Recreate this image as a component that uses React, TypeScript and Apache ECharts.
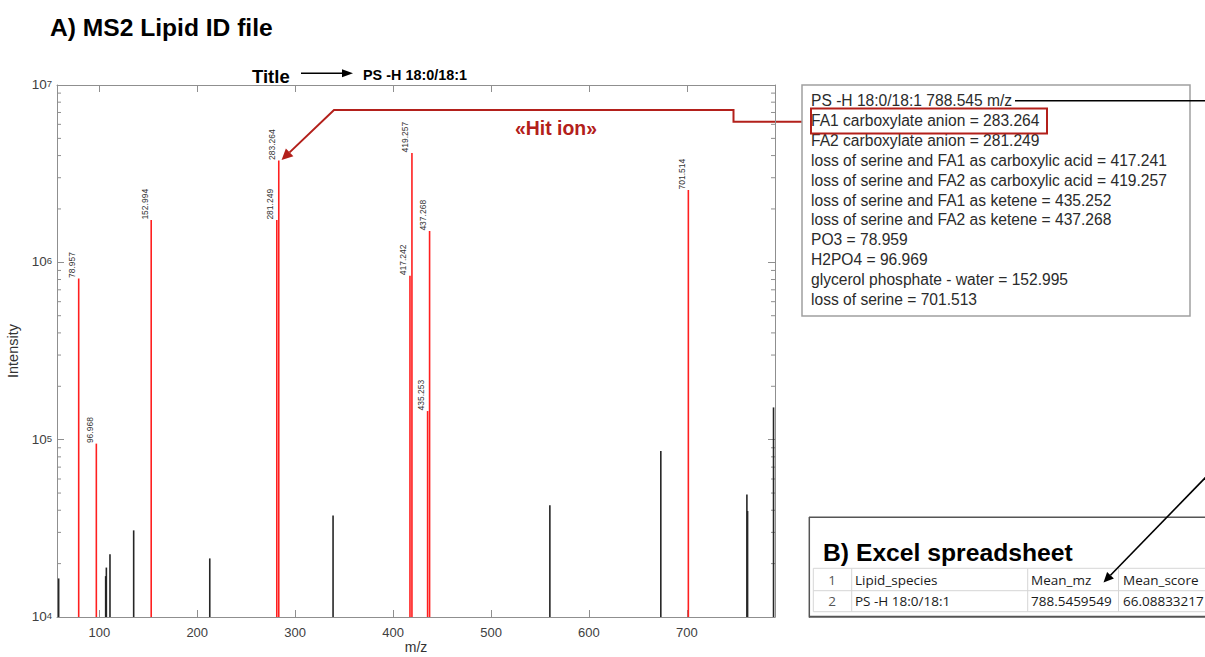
import React, { useEffect, useRef } from "react";
import * as echarts from "echarts";

// ---- data ----
const redMz = [78.957, 96.968, 152.994, 281.249, 283.264, 417.242, 419.257, 435.253, 437.268, 701.514];
const redIntensity = [810000, 95000, 1730000, 1730000, 3750000, 840000, 4140000, 145000, 1500000, 2560000];
const redLabels = ["78.957", "96.968", "152.994", "281.249", "283.264", "417.242", "419.257", "435.253", "437.268", "701.514"];
const blackMz = [58.5, 106.5, 107.2, 110.9, 135.1, 212.8, 338.7, 560.1, 673.4, 761.3, 762.0, 788.5];
const blackIntensity = [16500, 17000, 19000, 22600, 30800, 21400, 37300, 42700, 86300, 49000, 39600, 152000];
const xTicks = [100, 200, 300, 400, 500, 600, 700];
const yMinorTicks = [
  20000, 30000, 40000, 50000, 60000, 70000, 80000, 90000,
  200000, 300000, 400000, 500000, 600000, 700000, 800000, 900000,
  2000000, 3000000, 4000000, 5000000, 6000000, 7000000, 8000000, 9000000,
];
const X_MIN = 56.8;
const X_MAX = 790;
const Y_MIN = 1e4;
const Y_MAX = 1e7;

const mainTitle = "A) MS2 Lipid ID file";
const titleKey = "Title";
const titleValue = "PS -H 18:0/18:1";
const hitIon = "\u00abHit ion\u00bb";
const legendLines = [
  "PS -H 18:0/18:1 788.545 m/z",
  "FA1 carboxylate anion = 283.264",
  "FA2 carboxylate anion = 281.249",
  "loss of serine and FA1 as carboxylic acid = 417.241",
  "loss of serine and FA2 as carboxylic acid = 419.257",
  "loss of serine and FA1 as ketene = 435.252",
  "loss of serine and FA2 as ketene = 437.268",
  "PO3 = 78.959",
  "H2PO4 = 96.969",
  "glycerol phosphate - water = 152.995",
  "loss of serine = 701.513",
];
const sheetTitle = "B) Excel spreadsheet";
const sheetHeader = ["1", "Lipid_species", "Mean_mz", "Mean_score"];
const sheetRow = ["2", "PS -H 18:0/18:1", "788.5459549", "66.08833217"];

const FONT = "'Liberation Sans', Arial, Helvetica, sans-serif";
const SHEET_FONT = "'Open Sans', 'Liberation Sans', sans-serif";
const DARK_RED = "#b3201b";
const AXIS_COLOR = "#8f8f8f";

function buildGraphics() {
  const g: any[] = [];
  // main title
  g.push({ type: "text", x: 50, y: 27, style: { text: mainTitle, font: `bold 24.6px ${FONT}`, fill: "#000", align: "left", verticalAlign: "middle" } });
  // Title -> PS
  g.push({ type: "text", x: 252, y: 76, style: { text: titleKey, font: `bold 18.5px ${FONT}`, fill: "#000", align: "left", verticalAlign: "middle" } });
  g.push({ type: "line", shape: { x1: 301, y1: 73.3, x2: 343, y2: 73.3 }, style: { stroke: "#000", lineWidth: 1.6 } });
  g.push({ type: "polygon", shape: { points: [[353, 73.3], [342, 69.3], [342, 77.3]] }, style: { fill: "#000" } });
  g.push({ type: "text", x: 363, y: 75, style: { text: titleValue, font: `bold 14.4px ${FONT}`, fill: "#000", align: "left", verticalAlign: "middle" } });

  // hit ion annotation
  g.push({ type: "text", x: 556, y: 128, style: { text: hitIon, font: `bold 19.4px ${FONT}`, fill: DARK_RED, align: "center", verticalAlign: "middle" } });
  g.push({
    type: "polyline",
    shape: { points: [[289.6, 152.4], [334, 110], [733.5, 110], [733.5, 121.7], [811, 121.7]] },
    style: { stroke: DARK_RED, lineWidth: 2, fill: null },
  });
  g.push({ type: "polygon", shape: { points: [[281.6, 160], [293.4, 156.2], [285.9, 148.4]] }, style: { fill: DARK_RED } });

  // legend box
  g.push({ type: "rect", shape: { x: 802, y: 85, width: 388, height: 231 }, style: { fill: "#fff", stroke: "#a0a0a0", lineWidth: 1.5 } });
  legendLines.forEach((t, i) => {
    g.push({ type: "text", x: 811, y: 100.7 + i * 19.86, style: { text: t, font: `15.6px ${FONT}`, fill: "#2b2b2b", align: "left", verticalAlign: "middle" } });
  });
  g.push({ type: "rect", shape: { x: 811, y: 108.5, width: 236, height: 25 }, style: { fill: null, stroke: DARK_RED, lineWidth: 2 } });
  g.push({ type: "line", shape: { x1: 1015, y1: 100.7, x2: 1210, y2: 100.7 }, style: { stroke: "#000", lineWidth: 1.6 } });

  // spreadsheet
  g.push({ type: "line", shape: { x1: 809, y1: 517.3, x2: 1210, y2: 517.3 }, style: { stroke: "#555", lineWidth: 1.5 } });
  g.push({ type: "line", shape: { x1: 809.3, y1: 517, x2: 809.3, y2: 617.5 }, style: { stroke: "#555", lineWidth: 1.5 } });
  g.push({ type: "line", shape: { x1: 809, y1: 616.7, x2: 1210, y2: 616.7 }, style: { stroke: "#555", lineWidth: 2 } });
  g.push({ type: "text", x: 823, y: 552, style: { text: sheetTitle, font: `bold 24.7px ${FONT}`, fill: "#000", align: "left", verticalAlign: "middle" } });
  const rowsY = [568.3, 590.7, 611.7];
  const colsX = [813.3, 851.7, 1027.7, 1118.5];
  rowsY.forEach((y) => g.push({ type: "line", shape: { x1: 813.3, y1: y, x2: 1210, y2: y }, style: { stroke: "#d6d6d6", lineWidth: 1 } }));
  colsX.forEach((x) => g.push({ type: "line", shape: { x1: x, y1: 568.3, x2: x, y2: 611.7 }, style: { stroke: "#d6d6d6", lineWidth: 1 } }));
  const textX = [832, 855, 1031, 1123];
  [sheetHeader, sheetRow].forEach((row, r) => {
    const cy = (rowsY[r] + rowsY[r + 1]) / 2;
    row.forEach((t, c) => {
      g.push({
        type: "text",
        x: textX[c],
        y: cy,
        style: { text: t, font: `13.5px ${SHEET_FONT}`, fill: c === 0 ? "#555" : "#1a1a1a", align: c === 0 ? "center" : "left", verticalAlign: "middle" },
      });
    });
  });
  // arrow from legend line to Mean_mz
  g.push({ type: "line", shape: { x1: 1215, y1: 467.7, x2: 1110.5, y2: 575.3 }, style: { stroke: "#000", lineWidth: 1.6 } });
  g.push({ type: "polygon", shape: { points: [[1103.5, 582.5], [1113.9, 578.6], [1107.1, 572.0]] }, style: { fill: "#000" } });
  return g;
}

export default function App() {
  const ref = useRef<HTMLDivElement>(null);
  useEffect(() => {
    if (!ref.current) return;
    const chart = echarts.init(ref.current, undefined, { renderer: "svg" });

    const stickRender = (color: string, labels: string[] | null) => (params: any, api: any) => {
      const mz = api.value(0);
      const inten = api.value(1);
      const top = api.coord([mz, inten]);
      const bottom = api.coord([mz, Y_MIN]);
      const children: any[] = [
        { type: "line", shape: { x1: top[0], y1: bottom[1], x2: top[0], y2: top[1] }, style: { stroke: color, lineWidth: 1.6 } },
      ];
      if (labels) {
        children.push({
          type: "text",
          x: top[0] - 6.5,
          y: top[1] - 0.5,
          rotation: Math.PI / 2,
          style: { text: labels[params.dataIndex], font: `8.5px ${FONT}`, fill: "#333", align: "left", verticalAlign: "middle" },
        });
      }
      return { type: "group", children };
    };

    const minorRender = (params: any, api: any) => {
      const y = api.coord([X_MIN, api.value(1)])[1];
      const cs = params.coordSys;
      const x0 = cs.x;
      const x1 = cs.x + cs.width;
      return {
        type: "group",
        children: [
          { type: "line", shape: { x1: x0, y1: y, x2: x0 + 4, y2: y }, style: { stroke: AXIS_COLOR, lineWidth: 1 } },
          { type: "line", shape: { x1: x1 - 4, y1: y, x2: x1, y2: y }, style: { stroke: AXIS_COLOR, lineWidth: 1 } },
        ],
      };
    };

    const axisLineStyle = { color: AXIS_COLOR, width: 1 };
    const yLabelFormatter = (v: number) => `{b|10}{s|${Math.round(Math.log10(v))}}`;

    const option: any = {
      animation: false,
      backgroundColor: "#fff",
      grid: { left: 57, top: 85, width: 718, height: 532, containLabel: false, outerBoundsMode: "none" },
      xAxis: [
        {
          type: "value",
          min: X_MIN,
          max: X_MAX,
          position: "bottom",
          axisLine: { show: true, lineStyle: axisLineStyle },
          axisTick: { show: true, inside: true, length: 7, customValues: xTicks, lineStyle: axisLineStyle },
          axisLabel: { show: true, customValues: xTicks, color: "#404040", fontSize: 13, fontFamily: FONT, margin: 9 },
          splitLine: { show: false },
          name: "m/z",
          nameLocation: "middle",
          nameGap: 23,
          nameMoveOverlap: false,
          nameTextStyle: { fontSize: 14, lineHeight: 14, color: "#333", fontFamily: FONT },
        },
        {
          type: "value",
          min: X_MIN,
          max: X_MAX,
          position: "top",
          axisLine: { show: true, lineStyle: axisLineStyle },
          axisTick: { show: true, inside: true, length: 7, customValues: xTicks, lineStyle: axisLineStyle },
          axisLabel: { show: false, customValues: xTicks },
          splitLine: { show: false },
        },
      ],
      yAxis: [
        {
          type: "log",
          logBase: 10,
          min: Y_MIN,
          max: Y_MAX,
          position: "left",
          axisLine: { show: true, lineStyle: axisLineStyle },
          axisTick: { show: true, inside: true, length: 7, lineStyle: axisLineStyle },
          axisLabel: {
            show: true,
            margin: 5,
            formatter: yLabelFormatter,
            rich: {
              b: { fontSize: 13.5, color: "#404040", fontFamily: FONT, lineHeight: 13, padding: [3, 0, 0, 0], verticalAlign: "bottom" },
              s: { fontSize: 9.5, color: "#404040", fontFamily: FONT, lineHeight: 10, verticalAlign: "top" },
            },
          },
          splitLine: { show: false },
          minorTick: { show: false },
          name: "Intensity",
          nameLocation: "middle",
          nameGap: 29,
          nameTextStyle: { fontSize: 14.5, color: "#333", fontFamily: FONT },
        },
        {
          type: "log",
          logBase: 10,
          min: Y_MIN,
          max: Y_MAX,
          position: "right",
          axisLine: { show: true, lineStyle: axisLineStyle },
          axisTick: { show: true, inside: true, length: 7, lineStyle: axisLineStyle },
          axisLabel: { show: false },
          splitLine: { show: false },
        },
      ],
      series: [
        {
          type: "custom",
          name: "minor",
          xAxisIndex: 0,
          yAxisIndex: 0,
          renderItem: minorRender,
          data: yMinorTicks.map((v) => [X_MIN, v]),
          silent: true,
        },
        {
          type: "custom",
          name: "unmatched",
          xAxisIndex: 0,
          yAxisIndex: 0,
          renderItem: stickRender("#262626", null),
          data: blackMz.map((m, i) => [m, blackIntensity[i]]),
        },
        {
          type: "custom",
          name: "matched",
          xAxisIndex: 0,
          yAxisIndex: 0,
          renderItem: stickRender("#ff1f1f", redLabels),
          data: redMz.map((m, i) => [m, redIntensity[i]]),
        },
      ],
      graphic: buildGraphics(),
    };
    chart.setOption(option);
    return () => chart.dispose();
  }, []);

  return <div ref={ref} style={{ position: "absolute", left: 0, top: 0, width: 1205, height: 657 }} />;
}
